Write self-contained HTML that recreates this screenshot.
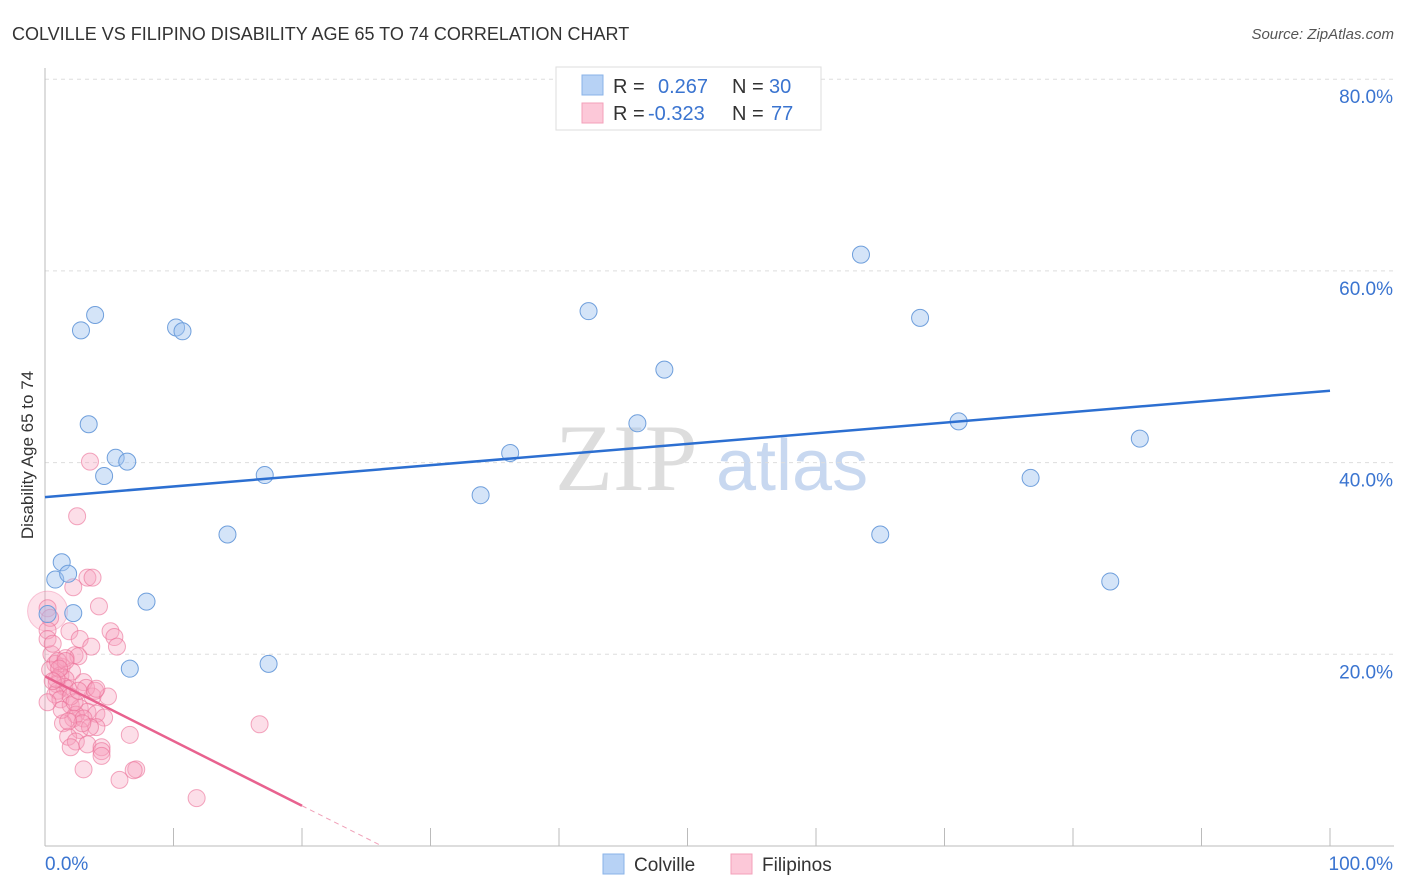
<!DOCTYPE html>
<html><head><meta charset="utf-8"><style>
body{margin:0;background:#fff;font-family:"Liberation Sans",sans-serif;}
#wrap{position:relative;width:1406px;height:892px;overflow:hidden;}
</style></head><body>
<div id="wrap">
<svg id="svg" width="1406" height="892" xmlns="http://www.w3.org/2000/svg">
<text x="12" y="40" font-size="18" fill="#333">COLVILLE VS FILIPINO DISABILITY AGE 65 TO 74 CORRELATION CHART</text>
<text x="1394" y="39" font-size="15" fill="#555" font-style="italic" text-anchor="end">Source: ZipAtlas.com</text>
<text x="0" y="0" transform="translate(33,455) rotate(-90)" font-size="17" fill="#333" text-anchor="middle">Disability Age 65 to 74</text>
<text x="555" y="490" font-size="95" fill="#ddd" font-family="Liberation Serif">ZIP</text>
<text x="716" y="490" font-size="72" fill="#c8d8f0">atlas</text>
<g id="grid"></g><g id="pts"></g><g id="lines"></g>
<rect x="556" y="67" width="265" height="63" fill="#fff" stroke="#ddd"/>
<rect x="582" y="75" width="21" height="20" fill="#b7d2f5" stroke="#8ab3e8"/>
<rect x="582" y="103" width="21" height="20" fill="#fcc8d8" stroke="#f3a0ba"/>
<text font-size="20" fill="#333"><tspan x="613" y="93">R = </tspan><tspan x="658" fill="#3a74d0">0.267</tspan><tspan x="732">N = </tspan><tspan x="769" fill="#3a74d0">30</tspan></text>
<text font-size="20" fill="#333"><tspan x="613" y="120">R = </tspan><tspan x="648" fill="#3a74d0">-0.323</tspan><tspan x="732">N = </tspan><tspan x="771" fill="#3a74d0">77</tspan></text>
<rect x="603" y="854" width="21" height="20" fill="#b7d2f5" stroke="#8ab3e8"/>
<text x="634" y="871" font-size="19" fill="#333">Colville</text>
<rect x="731" y="854" width="21" height="20" fill="#fcc8d8" stroke="#f3a0ba"/>
<text x="762" y="871" font-size="19" fill="#333">Filipinos</text>
</svg>
</div>
<script>
const xTicks=[0,10,20,30,40,50,60,70,80,90,100];
const yTicks=[20,40,60,80];
const yTickLabels=["20.0%","40.0%","60.0%","80.0%"];
const colvilleX=[3.9,2.8,10.2,10.7,3.4,5.5,6.4,4.6,17.1,14.2,1.3,0.8,1.8,2.2,0.2,7.9,6.6,17.4,33.9,36.2,42.3,48.2,46.1,63.5,68.1,71.1,65.0,76.7,85.2,82.9];
const colvilleY=[55.4,53.8,54.1,53.7,44.0,40.5,40.1,38.6,38.7,32.5,29.6,27.8,28.4,24.3,24.2,25.5,18.5,19.0,36.6,41.0,55.8,49.7,44.1,61.7,55.1,44.3,32.5,38.4,42.5,27.6];
const filX=[3.5,2.5,3.3,3.7,2.2,4.2,0.2,0.4,0.2,1.9,2.7,5.1,5.4,5.6,3.6,2.3,2.6,0.5,0.8,1.3,0.4,2.1,1.2,1.6,0.9,1.5,1.8,1.0,3.0,3.7,4.9,0.8,1.2,2.0,2.7,3.3,4.0,4.6,2.2,2.4,3.0,1.4,4.0,2.7,1.8,2.4,3.3,4.4,4.4,4.4,6.6,2.0,3.0,5.8,7.1,6.9,11.8,16.7,1.6,0.2,0.6,1.0,2.0,3.2,1.3,2.3,3.5,0.9,1.6,2.6,3.9,0.2,1.1,0.6,2.9,4.0,1.8];
const filY=[40.1,34.4,28.0,28.0,27.0,25.0,24.8,23.8,22.5,22.4,21.6,22.4,21.8,20.8,20.8,19.9,19.8,20.0,19.0,18.7,18.4,18.2,17.8,17.4,16.9,16.6,16.4,16.2,17.1,15.6,15.6,15.8,15.3,14.7,14.4,14.0,13.8,13.4,13.3,13.7,13.3,12.8,12.4,12.1,11.4,10.9,10.6,10.3,9.9,9.4,11.6,10.3,8.0,6.9,8.0,7.9,5.0,12.7,19.6,21.6,21.1,19.3,15.6,16.5,14.2,15.0,12.4,17.4,19.3,16.2,16.2,15.0,18.5,17.2,12.8,16.4,13.0];
const colvilleTrend=[36.4,47.5];
const filTrend=[17.7,-0.675];
const X0=45,X1=1330,Y0=846,YPX=9.585;
const sx=v=>X0+(X1-X0)*v/100, sy=v=>Y0-v*YPX;
const NS="http://www.w3.org/2000/svg";
function mk(tag,attrs,parent){const e=document.createElementNS(NS,tag);for(const k in attrs)e.setAttribute(k,attrs[k]);parent.appendChild(e);return e;}
const grid=document.getElementById('grid'),pts=document.getElementById('pts'),lines=document.getElementById('lines');
yTicks.forEach((t,i)=>{
 const g=mk('line',{x1:45,x2:1394,y1:sy(t),y2:sy(t),stroke:'#ddd','stroke-dasharray':'4,4'},grid);
 
 
 const l=mk('text',{x:1393,y:sy(t)+24,'font-size':19,fill:'#3a74d0','text-anchor':'end'},grid);
 l.textContent=yTickLabels[i];
 
 
});
const ax=mk('line',{x1:45,x2:45,y1:68,y2:846,stroke:'#bbb'},grid);


const bx=mk('line',{x1:45,x2:1394,y1:846,y2:846,stroke:'#bbb'},grid);


xTicks.forEach(t=>{
 if(t===0)return;
 const k=mk('line',{x1:sx(t),x2:sx(t),y1:828,y2:846,stroke:'#bbb'},grid);
 
 
});
const xl0=mk('text',{x:45,y:870,'font-size':19,fill:'#3a74d0'},grid);xl0.textContent='0.0%';


const xl1=mk('text',{x:1393,y:870,'font-size':19,fill:'#3a74d0','text-anchor':'end'},grid);xl1.textContent='100.0%';


const big=mk('circle',{cx:sx(0.2),cy:sy(24.5),r:20,fill:'rgba(247,160,190,0.3)',stroke:'rgba(240,120,160,0.4)'},pts);


filX.forEach((x,i)=>{
 const c=mk('circle',{cx:sx(x),cy:sy(filY[i]),r:8.5,fill:'rgba(247,160,190,0.35)',stroke:'rgba(235,110,150,0.6)','stroke-width':1},pts);
 
 
});
colvilleX.forEach((x,i)=>{
 const c=mk('circle',{cx:sx(x),cy:sy(colvilleY[i]),r:8.5,fill:'rgba(160,195,240,0.45)',stroke:'#6f9fdc','stroke-width':1},pts);
 
 
});
const bl=mk('line',{x1:sx(0),y1:sy(colvilleTrend[0]),x2:sx(100),y2:sy(colvilleTrend[1]),stroke:'#2c6fd1','stroke-width':2.5},lines);


const pEnd=20,pZero=-filTrend[0]/filTrend[1];
const pl=mk('line',{x1:sx(0),y1:sy(filTrend[0]),x2:sx(pEnd),y2:sy(filTrend[0]+filTrend[1]*pEnd),stroke:'#e8628f','stroke-width':2.5},lines);


const pd=mk('line',{x1:sx(pEnd),y1:sy(filTrend[0]+filTrend[1]*pEnd),x2:sx(pZero),y2:sy(0),stroke:'#f0a0b8','stroke-width':1,'stroke-dasharray':'5,4'},lines);


</script>
</body></html>
